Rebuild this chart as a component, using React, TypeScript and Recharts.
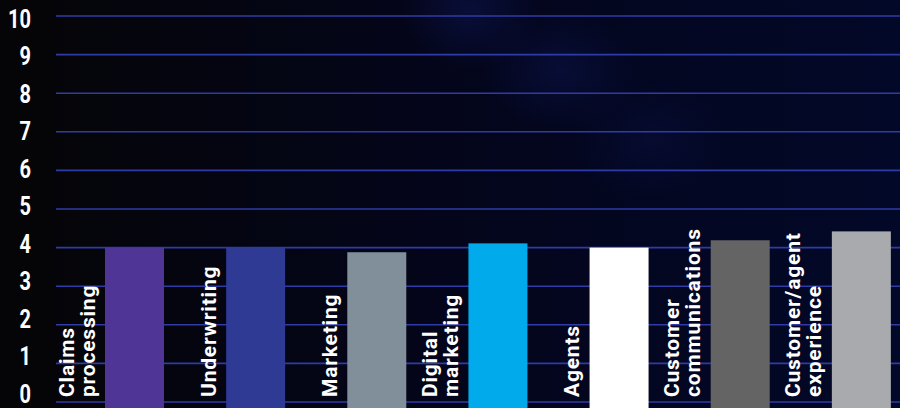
import { Bar, BarChart, CartesianGrid, Cell, XAxis, YAxis } from "recharts";

const categories = [
  "Claims\nprocessing",
  "Underwriting",
  "Marketing",
  "Digital\nmarketing",
  "Agents",
  "Customer\ncommunications",
  "Customer/agent\nexperience",
];
const scores = [4.0, 4.0, 3.88, 4.11, 4.0, 4.19, 4.42];
const barColors = [
  "#4f3596",
  "#2e3a94",
  "#808f99",
  "#00aaeb",
  "#ffffff",
  "#646464",
  "#a9aaae",
];
const yTicks = [0, 1, 2, 3, 4, 5, 6, 7, 8, 9, 10];

const data = categories.map((c, i) => ({ name: c, score: scores[i] }));

const labelFont = "Roboto, 'Noto Sans', sans-serif";

function CategoryTick({ x, y, payload }: any) {
  const lines: string[] = String(payload.value).split("\n");
  return (
    <g transform={`translate(${x - 40}, ${y - 5}) rotate(-90)`}>
      {lines.map((line, k) => (
        <text
          key={k}
          x={0}
          y={-(lines.length - 1 - k) * 21}
          fill="#ffffff"
          fontFamily={labelFont}
          fontWeight={700}
          fontSize={21}
          letterSpacing={0.8}
          textAnchor="start"
        >
          {line}
        </text>
      ))}
    </g>
  );
}

function ValueTick({ x, y, payload }: any) {
  // the printed scale runs slightly tighter than the grid
  const shift = 12 - (10 - payload.value) * 1.12;
  return (
    <text
      transform={`translate(${x - 25}, ${y + shift}) scale(0.8, 1)`}
      fill="#ffffff"
      fontFamily={labelFont}
      fontWeight={700}
      fontSize={25}
      textAnchor="end"
    >
      {payload.value}
    </text>
  );
}

function TallBar(props: any) {
  const { x, y, width, height, fill } = props;
  return <rect x={x} y={y} width={width} height={height + 8} fill={fill} />;
}

export default function App() {
  return (
    <div
      style={{
        position: "absolute",
        left: 0,
        top: 0,
        width: 900,
        height: 408,
        overflow: "hidden",
        background: [
          "radial-gradient(ellipse 70px 60px at 470px 10px, rgba(25,45,160,0.22), rgba(0,0,0,0))",
          "radial-gradient(ellipse 80px 60px at 560px 70px, rgba(25,45,160,0.18), rgba(0,0,0,0))",
          "radial-gradient(ellipse 80px 60px at 650px 140px, rgba(25,45,160,0.12), rgba(0,0,0,0))",
          "linear-gradient(90deg, #050507 0px, #050509 56px, #04051a 420px, #020828 900px)",
        ].join(", "),
      }}
    >
      <BarChart
        width={922}
        height={408}
        data={data}
        margin={{ top: 16, right: 0, bottom: 0, left: 0 }}
      >
        <CartesianGrid vertical={false} stroke="#2f3ba6" strokeWidth={1.6} />
        <XAxis
          dataKey="name"
          height={6}
          padding={{ left: 18, right: 0 }}
          axisLine={false}
          tickLine={false}
          tickSize={0}
          tickMargin={0}
          interval={0}
          tick={<CategoryTick />}
        />
        <YAxis
          width={56}
          domain={[0, 10]}
          ticks={yTicks}
          axisLine={false}
          tickLine={false}
          tickSize={0}
          tickMargin={0}
          interval={0}
          tick={<ValueTick />}
        />
        <Bar dataKey="score" barSize={59} shape={<TallBar />} isAnimationActive={false}>
          {data.map((d, i) => (
            <Cell key={d.name} fill={barColors[i]} />
          ))}
        </Bar>
      </BarChart>
    </div>
  );
}
